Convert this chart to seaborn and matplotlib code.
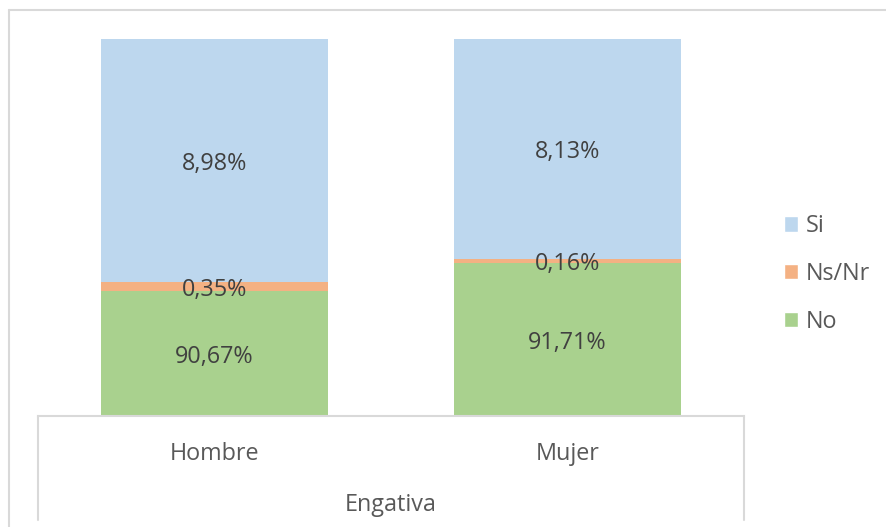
import matplotlib
matplotlib.use("Agg")
import matplotlib.pyplot as plt
import seaborn as sns
import pandas as pd
from matplotlib.lines import Line2D
from matplotlib.patches import Patch
from matplotlib.transforms import offset_copy

# ---- data (bar segment sizes as drawn, % of bar height) ----
categories = ["Hombre", "Mujer"]
group_label = "Engativa"
no_vals = [33.04, 40.47]
nsnr_vals = [2.47, 1.14]
si_vals = [64.49, 58.39]
no_labels = ["90,67%", "91,71%"]
nsnr_labels = ["0,35%", "0,16%"]
si_labels = ["8,98%", "8,13%"]
series_names = ["Si", "Ns/Nr", "No"]

C_SI = "#BDD7EE"
C_NS = "#F4B183"
C_NO = "#A9D18E"
GRID = "#D9D9D9"

sns.set_theme(style="white")
plt.rcParams["font.family"] = ["Open Sans", "DejaVu Sans"]

W, H = 886, 527
fig = plt.figure(figsize=(W / 100, H / 100), dpi=100)
fig.patch.set_facecolor("white")

def fx(x):
    return x / W

def fy(y):
    return 1 - y / H

ax_l, ax_r, ax_t, ax_b = 38, 744, 38.5, 415.6
ax = fig.add_axes([fx(ax_l), fy(ax_b), (ax_r - ax_l) / W, (ax_b - ax_t) / H])

df = pd.DataFrame({"cat": categories, "no": no_vals, "ns": nsnr_vals, "si": si_vals})
df["top_ns"] = df["no"] + df["ns"]
df["total"] = df["top_ns"] + df["si"]

bw = 0.643
sns.barplot(data=df, x="cat", y="total", color=C_SI, width=bw, ax=ax, saturation=1, linewidth=0)
sns.barplot(data=df, x="cat", y="top_ns", color=C_NS, width=bw, ax=ax, saturation=1, linewidth=0)
sns.barplot(data=df, x="cat", y="no", color=C_NO, width=bw, ax=ax, saturation=1, linewidth=0)

ax.set_xlim(-0.5, 1.5)
ax.set_ylim(0, 100)
ax.set_xlabel("")
ax.set_ylabel("")
ax.set_xticks([])
ax.set_yticks([])
for s in ["top", "left", "right"]:
    ax.spines[s].set_visible(False)
ax.spines["bottom"].set_color(GRID)
ax.spines["bottom"].set_linewidth(1.5)

FS = 16.8
lab_tr = offset_copy(ax.transData, fig=fig, x=0, y=-3.5, units="dots")
lab_kw = dict(ha="center", va="center", fontsize=FS, color="#404040", transform=lab_tr)
for i in range(len(categories)):
    no = no_vals[i]
    ns = nsnr_vals[i]
    si = si_vals[i]
    ax.text(i, no / 2, no_labels[i], **lab_kw)
    ax.text(i, no + ns / 2, nsnr_labels[i], **lab_kw)
    ax.text(i, no + ns + si / 2, si_labels[i], **lab_kw)

# category labels
for i, c in enumerate(categories):
    xc = ax_l + (ax_r - ax_l) * (i + 0.5) / len(categories)
    fig.text(fx(xc), fy(454), c, ha="center", va="center", fontsize=FS, color="#595959")
fig.text(fx((ax_l + ax_r) / 2), fy(505), group_label, ha="center", va="center",
         fontsize=FS, color="#595959")

# category box lines
for x in (ax_l, ax_r):
    fig.add_artist(Line2D([fx(x), fx(x)], [fy(416), fy(520)], color=GRID, lw=1.5,
                          transform=fig.transFigure))
# outer chart border
fig.add_artist(Line2D([fx(9), fx(886)], [fy(10), fy(10)], color=GRID, lw=1.5,
                      transform=fig.transFigure))
fig.add_artist(Line2D([fx(9), fx(9)], [fy(10), fy(527)], color=GRID, lw=1.5,
                      transform=fig.transFigure))

# legend
handles = [Patch(facecolor=C_SI), Patch(facecolor=C_NS), Patch(facecolor=C_NO)]
leg = fig.legend(handles, series_names, loc="center left",
                 bbox_to_anchor=(fx(784), fy(274)), frameon=False,
                 fontsize=FS, labelcolor="#595959",
                 handlelength=0.62, handleheight=0.62, handletextpad=0.3,
                 labelspacing=1.02, borderpad=0, borderaxespad=0)

fig.savefig("out.png", dpi=100, facecolor="white")
